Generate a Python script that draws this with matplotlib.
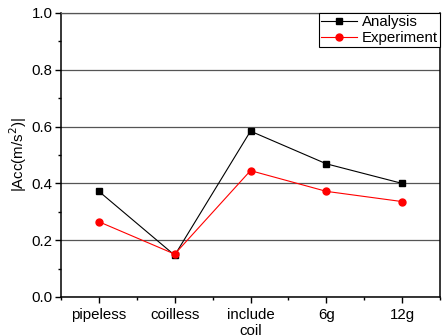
import matplotlib
matplotlib.use("Agg")
import matplotlib.pyplot as plt
from matplotlib.ticker import MultipleLocator

categories = ["pipeless", "coilless", "include\ncoil", "6g", "12g"]
analysis = [0.372, 0.147, 0.584, 0.469, 0.400]
experiment = [0.265, 0.151, 0.445, 0.372, 0.336]

plt.rcParams['font.family'] = ['Liberation Sans', 'DejaVu Sans']
plt.rcParams['font.size'] = 10.8

fig = plt.figure(figsize=(4.42, 3.35), dpi=100)
ax = fig.add_axes([61/442, 38/335, 379/442, 284/335])
x = list(range(1, len(categories) + 1))
ax.plot(x, analysis, color='black', marker='s', markersize=4.5, linewidth=0.8, label='Analysis')
ax.plot(x, experiment, color='red', marker='o', markersize=5, linewidth=0.8, label='Experiment')

ax.set_xlim(0.5, 5.5)
ax.set_ylim(0.0, 1.0)
ax.set_xticks(x)
ax.set_xticklabels(categories)
ax.xaxis.set_minor_locator(MultipleLocator(0.5))
ax.yaxis.set_major_locator(MultipleLocator(0.2))
ax.yaxis.set_minor_locator(MultipleLocator(0.1))
ax.yaxis.set_major_formatter(matplotlib.ticker.FormatStrFormatter('%.1f'))
ax.tick_params(axis='both', which='major', direction='out', length=4, width=1, labelsize=10.8, pad=2)
ax.tick_params(axis='x', which='major', pad=4)
ax.tick_params(axis='both', which='minor', direction='out', length=2.5, width=1)
ax.grid(axis='y', which='major', color='#555555', linewidth=0.9)
ax.set_axisbelow(True)
for s in ['left', 'bottom', 'right']:
    ax.spines[s].set_linewidth(1.1)
    ax.spines[s].set_color('black')
ax.spines['top'].set_color('#555555')
ax.spines['top'].set_linewidth(0.9)
ax.set_ylabel('|Acc(m/s$^2$)|', labelpad=2)

leg = ax.legend(loc='upper right', fancybox=False, framealpha=1, edgecolor='black',
                borderaxespad=0, handlelength=2.4, borderpad=0.15, labelspacing=0.1,
                handletextpad=0.3, fontsize=10.8)
leg.get_frame().set_linewidth(0.8)

fig.savefig('out.png', dpi=100)
